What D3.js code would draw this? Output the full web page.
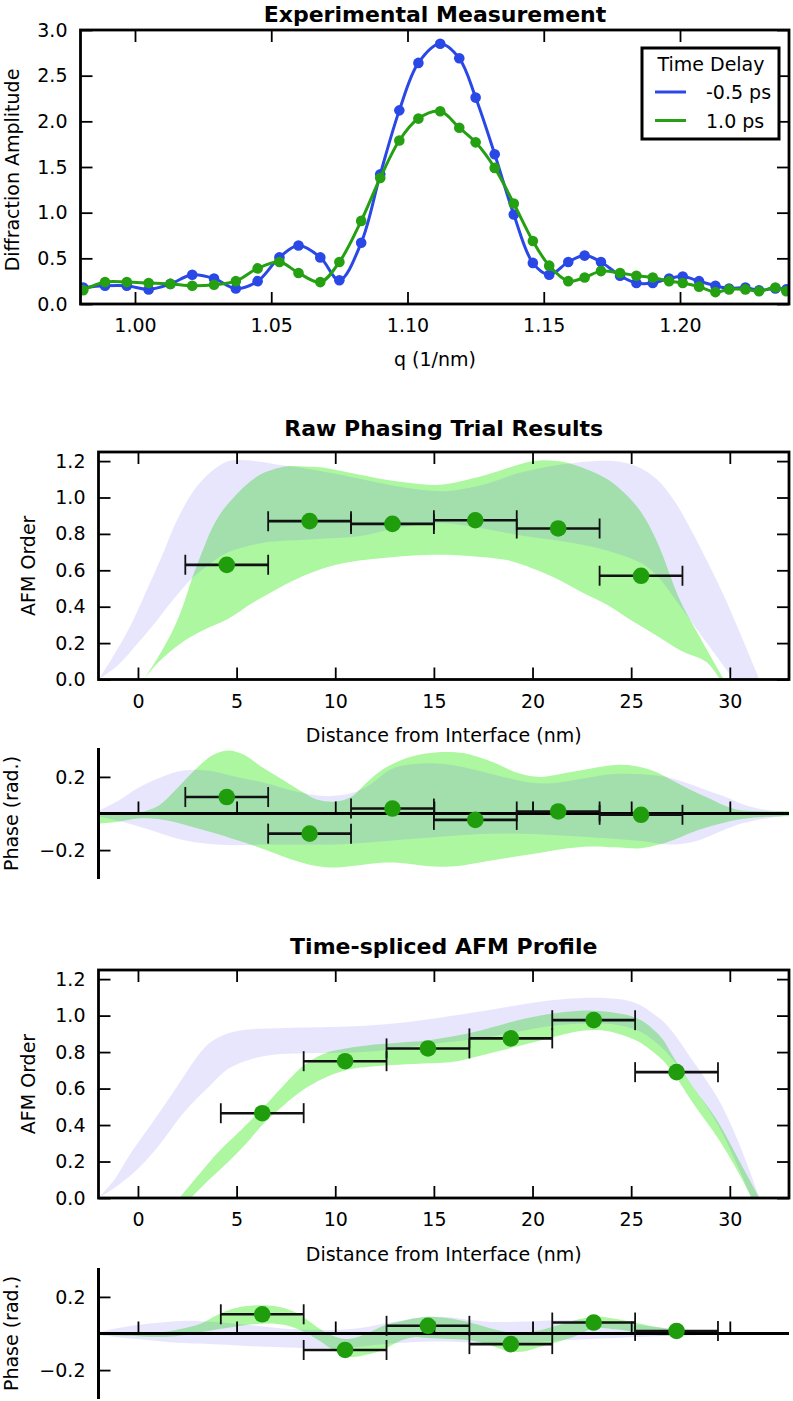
<!DOCTYPE html>
<html>
<head>
<meta charset="utf-8">
<script src="https://cdn.jsdelivr.net/npm/d3@7"></script>
<style>
  body { margin: 0; background: #fff; }
  svg { display: block; font-family: "DejaVu Sans", sans-serif; }
</style>
</head>
<body>
<script>
// ---- data: experimental measurement ----
var qValues = [0.981, 0.989, 0.997, 1.005, 1.013, 1.021, 1.029, 1.037, 1.045, 1.053, 1.060, 1.068, 1.075,
  1.083, 1.090, 1.097, 1.104, 1.112, 1.119, 1.125, 1.132, 1.139, 1.146, 1.152, 1.159, 1.165, 1.171, 1.178,
  1.184, 1.190, 1.196, 1.201, 1.207, 1.213, 1.218, 1.224, 1.229, 1.235, 1.239];
var ampMinus05 = [0.18, 0.20, 0.20, 0.16, 0.22, 0.32, 0.28, 0.17, 0.25, 0.51, 0.64, 0.51, 0.26,
  0.67, 1.42, 2.12, 2.64, 2.85, 2.69, 2.26, 1.64, 0.98, 0.45, 0.32, 0.46, 0.53, 0.46, 0.31,
  0.23, 0.23, 0.28, 0.30, 0.25, 0.20, 0.17, 0.18, 0.15, 0.17, 0.16];
var amp10 = [0.15, 0.24, 0.24, 0.23, 0.22, 0.20, 0.21, 0.25, 0.39, 0.46, 0.34, 0.24, 0.46,
  0.91, 1.38, 1.79, 2.03, 2.11, 1.93, 1.77, 1.49, 1.10, 0.69, 0.42, 0.25, 0.29, 0.36, 0.34,
  0.31, 0.29, 0.25, 0.23, 0.19, 0.13, 0.16, 0.16, 0.14, 0.18, 0.14];
var seriesNames = ["-0.5 ps", "1.0 ps"];
var qTicks = [1.00, 1.05, 1.10, 1.15, 1.20];
var ampTicks = [0, 0.5, 1.0, 1.5, 2.0, 2.5, 3.0];

// ---- data: raw phasing trial ----
var rawX = [4.5, 8.7, 12.9, 17.1, 21.3, 25.5];
var rawAfm = [0.63, 0.87, 0.855, 0.875, 0.83, 0.57];
var rawPhase = [0.09, -0.11, 0.027, -0.035, 0.011, -0.007];
var rawXerr = 2.1;
var rawLavUpper = [[-2,0],[-1.3,0.12],[-0.5,0.27],[0.4,0.48],[1.22,0.68],[2.0,0.88],[2.9,1.05],[3.8,1.15],
  [4.6,1.20],[5.44,1.205],[6.3,1.195],[7.1,1.18],[8.5,1.16],[10,1.13],[11.35,1.10],[13.5,1.055],[15.5,1.035],
  [17.5,1.07],[19.5,1.14],[22.1,1.19],[24.1,1.20],[25.3,1.17],[26.3,1.10],[27.2,0.98],[28.0,0.83],
  [28.9,0.64],[29.7,0.46],[30.5,0.26],[31.5,0]];
var rawLavLower = [[-2,0],[-1,0.08],[0,0.2],[1,0.33],[1.72,0.43],[2.74,0.555],[3.7,0.64],[4.6,0.70],
  [6.3,0.75],[8.8,0.77],[11.35,0.79],[13,0.83],[15.3,0.86],[17.5,0.83],[19.5,0.79],[21.5,0.76],[23.4,0.72],
  [25.5,0.64],[26.4,0.56],[27.1,0.46],[28.5,0.25],[30.2,0]];
var rawGreenUpper = [[0.3,0],[1.0,0.12],[1.72,0.26],[2.2,0.38],[2.74,0.555],[3.25,0.70],[3.75,0.83],[4.3,0.93],
  [4.93,1.01],[5.6,1.08],[6.28,1.13],[7.47,1.17],[8.5,1.17],[9.66,1.16],[11,1.13],[12.2,1.105],[13.8,1.08],
  [15.3,1.07],[17.5,1.12],[20.05,1.20],[21.2,1.20],[22.1,1.18],[23.8,1.10],[24.7,1.02],[25.5,0.92],
  [26.3,0.76],[27.5,0.43],[28.5,0.23],[29.7,0]];
var rawGreenLower = [[0.3,0],[1.0,0.09],[2.06,0.19],[3.3,0.27],[4.6,0.335],[5.8,0.42],[7.1,0.50],[8.4,0.57],
  [9.66,0.62],[11,0.65],[12.2,0.665],[13.8,0.68],[15.6,0.685],[17.2,0.675],[18.7,0.656],[20,0.61],[21.2,0.555],
  [22.5,0.48],[23.8,0.41],[25,0.325],[26.3,0.24],[27.5,0.16],[28.8,0.097],[29.5,0]];
var rawPhLavUpper = [[-2,0.015],[-1,0.07],[0,0.14],[1.2,0.2],[2.3,0.235],[3.5,0.235],[5,0.2],[6.5,0.165],[8,0.12],
  [9.5,0.095],[10.8,0.11],[11.8,0.16],[12.8,0.24],[14,0.27],[15.5,0.27],[17,0.24],[18.5,0.2],[19.8,0.17],
  [21,0.165],[22.5,0.19],[24,0.215],[25.5,0.215],[26.8,0.2],[28,0.16],[29,0.12],[29.8,0.09],[30.8,0.045],
  [31.8,0.02],[33,0.01]];
var rawPhLavLower = [[-2,-0.015],[-1,-0.04],[0,-0.07],[1.2,-0.11],[2.3,-0.145],[3.5,-0.165],[4.8,-0.173],
  [6.5,-0.17],[8.5,-0.17],[10,-0.17],[11.5,-0.16],[13,-0.146],[15,-0.13],[17,-0.115],[19.5,-0.11],[21.5,-0.12],
  [23,-0.13],[25.5,-0.15],[27.1,-0.17],[28.3,-0.15],[29.7,-0.09],[30.6,-0.055],[31.4,-0.035],[33,-0.01]];
var rawPhGreenUpper = [[-2,-0.005],[-1,-0.002],[0,0.005],[1,0.04],[2,0.14],[3,0.25],[3.8,0.32],[4.6,0.345],
  [5.4,0.32],[6.2,0.26],[7.4,0.18],[8.3,0.12],[9.1,0.075],[10,0.065],[10.8,0.09],[11.6,0.17],[12.4,0.24],
  [13.3,0.29],[14.2,0.32],[15.2,0.335],[16.5,0.33],[18,0.28],[19.3,0.22],[20.4,0.2],[21.6,0.22],[22.9,0.245],
  [24.2,0.265],[25.2,0.26],[26.2,0.23],[27.1,0.18],[28,0.13],[28.8,0.09],[29.7,0.045],[30.4,0.02],
  [31.5,0.012],[33,0.012]];
var rawPhGreenLower = [[-2,-0.055],[-1,-0.045],[0,-0.028],[1,-0.03],[2,-0.05],[3,-0.08],[4,-0.11],[5,-0.145],
  [6.5,-0.2],[7.6,-0.245],[8.7,-0.28],[9.8,-0.295],[11,-0.285],[12.2,-0.27],[13.3,-0.27],[14.5,-0.285],
  [15.9,-0.29],[17.2,-0.27],[18.6,-0.245],[20.4,-0.215],[21.8,-0.19],[22.9,-0.18],[24.2,-0.185],[25.5,-0.19],
  [26.4,-0.17],[27.1,-0.146],[28.4,-0.09],[29.7,-0.05],[30.6,-0.03],[31.5,-0.02],[33,-0.015]];

// ---- data: time-spliced profile ----
var splX = [6.3, 10.5, 14.7, 18.9, 23.1, 27.3];
var splAfm = [0.465, 0.75, 0.82, 0.875, 0.975, 0.69];
var splPhase = [0.105, -0.09, 0.042, -0.058, 0.06, 0.014];
var splXerr = 2.1;
var splLavUpper = [[-2,0],[-1.2,0.1],[-0.4,0.24],[0.77,0.42],[1.6,0.55],[2.34,0.67],[3.1,0.79],[3.7,0.855],
  [4.5,0.9],[5.27,0.92],[7.5,0.932],[9.1,0.936],[11.5,0.945],[13.6,0.964],[16,1.0],[18.1,1.036],[20,1.07],
  [21.5,1.09],[23.7,1.096],[24.9,1.08],[25.5,1.055],[26.0,1.02],[26.6,0.97],[27.1,0.91],[28.2,0.74],
  [29.4,0.545],[30.5,0.29],[31.5,0]];
var splLavLower = [[-2,0],[-1,0.07],[0,0.16],[1,0.28],[2.34,0.47],[3.5,0.6],[4.6,0.71],[5.7,0.76],
  [6.85,0.785],[8.5,0.793],[10.2,0.796],[12,0.805],[13.6,0.827],[15.3,0.85],[17.0,0.87],[18.7,0.90],
  [20.4,0.935],[21.5,0.95],[22.6,0.957],[23.8,0.955],[24.9,0.935],[25.5,0.91],[26.0,0.875],[26.6,0.82],
  [27.1,0.76],[28.2,0.6],[29.4,0.4],[30.5,0.15],[31.1,0]];
var splGreenUpper = [[2.1,0],[3.1,0.13],[4.1,0.255],[5.2,0.37],[6.3,0.49],[7.4,0.62],[8.4,0.727],[9.4,0.79],
  [10.45,0.818],[11.5,0.835],[12.5,0.845],[13.6,0.855],[14.7,0.864],[15.9,0.885],[17.0,0.909],[18.1,0.94],
  [19.2,0.973],[20.4,1.0],[21.5,1.018],[22.4,1.027],[23.1,1.027],[24.0,1.018],[24.9,1.0],[25.5,0.975],
  [26.0,0.936],[26.6,0.87],[27.1,0.78],[28.2,0.6],[29.4,0.418],[30.5,0.2],[31.5,0]];
var splGreenLower = [[2.68,0],[3.6,0.1],[4.6,0.2],[5.5,0.3],[6.3,0.4],[7.2,0.49],[8.0,0.564],[9.1,0.64],
  [10.2,0.69],[11.3,0.715],[12.5,0.727],[14,0.735],[15.9,0.745],[17.0,0.77],[18.1,0.8],[19.2,0.83],
  [20.4,0.864],[21.5,0.895],[22.6,0.918],[23.5,0.92],[24.2,0.905],[24.9,0.88],[25.5,0.85],[26.0,0.81],
  [26.6,0.755],[27.1,0.69],[28.2,0.51],[29.4,0.327],[30.5,0.127],[31.1,0]];
var splPhLavUpper = [[-2,0.005],[-1,0.03],[0.6,0.055],[2.3,0.069],[3.5,0.065],[4.8,0.055],[6.2,0.04],
  [7.7,0.025],[9,0.02],[10.5,0.022],[11.6,0.036],[12.5,0.055],[13.3,0.07],[14.5,0.09],[15.6,0.09],[17.0,0.072],
  [17.9,0.063],[19.5,0.065],[21.2,0.073],[23,0.07],[24.6,0.055],[26.3,0.036],[27.5,0.022],[28.8,0.01],
  [30.5,0.003],[33,0.002]];
var splPhLavLower = [[-2,-0.005],[-1,-0.02],[0.5,-0.035],[2,-0.05],[3.2,-0.055],[5,-0.065],[6.5,-0.073],
  [8.5,-0.08],[9.9,-0.082],[11.2,-0.072],[12.8,-0.055],[14.5,-0.045],[16,-0.045],[18,-0.055],[19.5,-0.05],
  [21,-0.04],[23,-0.03],[25,-0.02],[27,-0.012],[29,-0.005],[33,-0.002]];
var splPhGreenUpper = [[-2,0.0],[0,0.002],[1.4,0.01],[2.4,0.03],[3.2,0.055],[4,0.1],[4.85,0.137],[6.2,0.155],
  [7.2,0.145],[7.9,0.12],[8.5,0.08],[9.07,0.036],[9.8,-0.01],[10.5,-0.03],[11.1,-0.02],[11.6,0.0],[12.4,0.04],
  [13.3,0.065],[14.7,0.091],[15.9,0.08],[17.0,0.055],[18.0,0.025],[18.9,0.005],[19.6,0.005],[20.4,0.018],
  [21.6,0.055],[23.1,0.091],[24.6,0.073],[26.3,0.036],[28,0.01],[29.7,0.002],[33,0.002]];
var splPhGreenLower = [[-2,-0.01],[0,-0.015],[1.4,-0.018],[2.4,-0.008],[3.2,0.008],[4.85,0.036],[6.5,0.055],
  [7.5,0.045],[8.4,0.01],[9.2,-0.04],[9.9,-0.09],[10.76,-0.128],[11.6,-0.115],[12.4,-0.09],[13.3,-0.04],
  [14,-0.02],[14.7,-0.025],[15.8,-0.03],[17.0,-0.04],[18.0,-0.07],[18.9,-0.1],[19.7,-0.095],[20.4,-0.073],
  [21.3,-0.045],[22.1,-0.018],[23.1,0.027],[24,0.025],[24.6,0.018],[25.5,0.0],[26.3,-0.01],[28,-0.01],
  [29.7,-0.003],[33,-0.002]];

var distTicks = [0, 5, 10, 15, 20, 25, 30];
var afmTicks = [0, 0.2, 0.4, 0.6, 0.8, 1.0, 1.2];
var phaseTicks = [-0.2, 0.2];

// ---- styling ----
var blue = "#2a48e6", green = "#24a012", dotGreen = "#1f9d0c";
var font = "DejaVu Sans";

var svg = d3.select("body").append("svg").attr("width", 793).attr("height", 1401);
svg.append("rect").attr("width", 793).attr("height", 1401).attr("fill", "#fff");

var clipId = 0;
function clipFor(box) {
  var id = "clip" + (clipId++);
  svg.append("clipPath").attr("id", id).append("rect")
    .attr("x", box.l).attr("y", box.t).attr("width", box.r - box.l).attr("height", box.b - box.t);
  return "url(#" + id + ")";
}

function styleAxis(sel) {
  sel.attr("font-size", 19).attr("font-family", font);
  sel.select(".domain").remove();
  sel.selectAll(".tick line").attr("stroke-width", 1.8);
}

function frameAxes(box, x, y, xt, yt, xf, yf) {
  svg.append("g").attr("transform", "translate(0," + box.b + ")")
    .call(d3.axisBottom(x).tickValues(xt).tickFormat(xf).tickSizeInner(-12).tickSizeOuter(0).tickPadding(15))
    .call(styleAxis);
  svg.append("g").attr("transform", "translate(0," + box.t + ")")
    .call(d3.axisTop(x).tickValues(xt).tickFormat("").tickSizeInner(-12).tickSizeOuter(0))
    .call(styleAxis);
  svg.append("g").attr("transform", "translate(" + box.l + ",0)")
    .call(d3.axisLeft(y).tickValues(yt).tickFormat(yf).tickSizeInner(-12).tickSizeOuter(0).tickPadding(13))
    .call(styleAxis);
  svg.append("g").attr("transform", "translate(" + box.r + ",0)")
    .call(d3.axisRight(y).tickValues(yt).tickFormat("").tickSizeInner(-12).tickSizeOuter(0))
    .call(styleAxis);
  svg.append("rect").attr("x", box.l).attr("y", box.t)
    .attr("width", box.r - box.l).attr("height", box.b - box.t)
    .attr("fill", "none").attr("stroke", "#000").attr("stroke-width", 2.8);
}

function title(txt, cx, y) {
  svg.append("text").attr("x", cx).attr("y", y).attr("text-anchor", "middle")
    .attr("font-size", 22).attr("font-weight", "bold").attr("font-family", font).text(txt);
}
function label(txt, cx, y) {
  svg.append("text").attr("x", cx).attr("y", y).attr("text-anchor", "middle")
    .attr("font-size", 19).attr("font-family", font).text(txt);
}
function ylabel(txt, x, cy) {
  svg.append("text").attr("transform", "translate(" + x + "," + cy + ") rotate(-90)")
    .attr("text-anchor", "middle").attr("font-size", 19).attr("font-family", font).text(txt);
}

function bandPath(x, y, upper, lower) {
  var line = d3.line().x(function(d) { return x(d[0]); }).y(function(d) { return y(d[1]); })
    .curve(d3.curveCatmullRom);
  var a = line(upper), b = line(lower.slice().reverse());
  return a + "L" + b.slice(1) + "Z";
}

function bands(g, x, y, gu, gl, lu, ll) {
  g.append("path").attr("d", bandPath(x, y, gu, gl)).attr("fill", "rgb(60,235,30)").attr("fill-opacity", 0.42);
  g.append("path").attr("d", bandPath(x, y, lu, ll)).attr("fill", "rgb(100,90,240)").attr("fill-opacity", 0.15);
}

function errPoints(g, x, y, xs, vs, err) {
  var pts = xs.map(function(d, i) { return {x: d, v: vs[i]}; });
  g.selectAll(null).data(pts).enter().append("line")
    .attr("x1", function(d) { return x(d.x - err); }).attr("x2", function(d) { return x(d.x + err); })
    .attr("y1", function(d) { return y(d.v); }).attr("y2", function(d) { return y(d.v); })
    .attr("stroke", "#111").attr("stroke-width", 2.6);
  [-1, 1].forEach(function(s) {
    g.selectAll(null).data(pts).enter().append("line")
      .attr("x1", function(d) { return x(d.x + s * err); }).attr("x2", function(d) { return x(d.x + s * err); })
      .attr("y1", function(d) { return y(d.v) - 10; }).attr("y2", function(d) { return y(d.v) + 10; })
      .attr("stroke", "#111").attr("stroke-width", 1.8);
  });
  g.selectAll(null).data(pts).enter().append("circle")
    .attr("cx", function(d) { return x(d.x); }).attr("cy", function(d) { return y(d.v); })
    .attr("r", 8.3).attr("fill", dotGreen);
}

// ================= panel 1: experimental measurement =================
var topBox = {l: 80.5, r: 789, t: 30, b: 304};
var xq = d3.scaleLinear().domain([0.98, 1.24]).range([topBox.l, topBox.r]);
var ya = d3.scaleLinear().domain([0, 3.0]).range([topBox.b, topBox.t]);
var g1 = svg.append("g").attr("clip-path", clipFor(topBox));
[[ampMinus05, blue], [amp10, green]].forEach(function(s) {
  var pts = qValues.map(function(q, i) { return [q, s[0][i]]; });
  g1.append("path").attr("d", d3.line().x(function(d) { return xq(d[0]); }).y(function(d) { return ya(d[1]); })
      .curve(d3.curveCatmullRom)(pts))
    .attr("fill", "none").attr("stroke", s[1]).attr("stroke-width", 3);
  g1.selectAll(null).data(pts).enter().append("circle")
    .attr("cx", function(d) { return xq(d[0]); }).attr("cy", function(d) { return ya(d[1]); })
    .attr("r", 5.3).attr("fill", s[1]);
});
frameAxes(topBox, xq, ya, qTicks, ampTicks, d3.format(".2f"), d3.format(".1f"));
title("Experimental Measurement", 435, 22);
label("q (1/nm)", 435, 366);
ylabel("Diffraction Amplitude", 19, 170);

// legend
var lg = svg.append("g");
lg.append("rect").attr("x", 642).attr("y", 48).attr("width", 137).attr("height", 91)
  .attr("fill", "#fff").attr("stroke", "#000").attr("stroke-width", 3);
lg.append("text").attr("x", 711).attr("y", 71).attr("text-anchor", "middle")
  .attr("font-size", 19).attr("font-family", font).text("Time Delay");
[blue, green].forEach(function(c, i) {
  var yy = 92 + i * 28.5;
  lg.append("line").attr("x1", 655).attr("x2", 686).attr("y1", yy).attr("y2", yy)
    .attr("stroke", c).attr("stroke-width", 3);
  lg.append("text").attr("x", 706).attr("y", yy + 7).attr("font-size", 19).attr("font-family", font)
    .text(seriesNames[i]);
});

// ================= panel builder for AFM + phase =================
function afmPanel(box, phBox, ttl, d) {
  var x = d3.scaleLinear().domain([-2, 33]).range([box.l, box.r]);
  var y = d3.scaleLinear().domain([0, 1.25]).range([box.b, box.t]);
  var g = svg.append("g").attr("clip-path", clipFor(box));
  bands(g, x, y, d.gu, d.gl, d.lu, d.ll);
  errPoints(g, x, y, d.xs, d.afm, d.err);
  frameAxes(box, x, y, distTicks, afmTicks, d3.format("d"), d3.format(".1f"));
  title(ttl, (box.l + box.r) / 2, box.t - 16);
  label("Distance from Interface (nm)", (box.l + box.r) / 2, box.b + 62.5);
  ylabel("AFM Order", 35, (box.t + box.b) / 2);

  // phase sub-panel
  var yp = d3.scaleLinear().domain([-0.358, 0.358]).range([phBox.b, phBox.t]);
  var gp = svg.append("g").attr("clip-path", clipFor(phBox));
  bands(gp, x, yp, d.pgu, d.pgl, d.plu, d.pll);
  var zero = svg.append("g").attr("transform", "translate(0," + yp(0) + ")")
    .call(d3.axisBottom(x).tickValues(distTicks).tickFormat("").tickSizeInner(-12).tickSizeOuter(0))
    .call(styleAxis);
  zero.append("line").attr("x1", phBox.l).attr("x2", phBox.r).attr("stroke", "#000").attr("stroke-width", 3);
  errPoints(svg.append("g"), x, yp, d.xs, d.phase, d.err);
  svg.append("g").attr("transform", "translate(" + phBox.l + ",0)")
    .call(d3.axisLeft(yp).tickValues(phaseTicks).tickFormat(d3.format(".1f")).tickSizeInner(-12).tickSizeOuter(0).tickPadding(13))
    .call(styleAxis);
  svg.append("line").attr("x1", phBox.l).attr("x2", phBox.l).attr("y1", phBox.t).attr("y2", phBox.b)
    .attr("stroke", "#000").attr("stroke-width", 3);
  ylabel("Phase (rad.)", 18, (phBox.t + phBox.b) / 2);
}

afmPanel({l: 98.5, r: 789, t: 452, b: 679.5}, {l: 98.5, r: 789, t: 748, b: 879},
  "Raw Phasing Trial Results",
  {xs: rawX, afm: rawAfm, phase: rawPhase, err: rawXerr,
   gu: rawGreenUpper, gl: rawGreenLower, lu: rawLavUpper, ll: rawLavLower,
   pgu: rawPhGreenUpper, pgl: rawPhGreenLower, plu: rawPhLavUpper, pll: rawPhLavLower});

afmPanel({l: 98.5, r: 789, t: 970, b: 1198}, {l: 98.5, r: 789, t: 1268, b: 1399},
  "Time-spliced AFM Profile",
  {xs: splX, afm: splAfm, phase: splPhase, err: splXerr,
   gu: splGreenUpper, gl: splGreenLower, lu: splLavUpper, ll: splLavLower,
   pgu: splPhGreenUpper, pgl: splPhGreenLower, plu: splPhLavUpper, pll: splPhLavLower});
</script>
</body>
</html>
